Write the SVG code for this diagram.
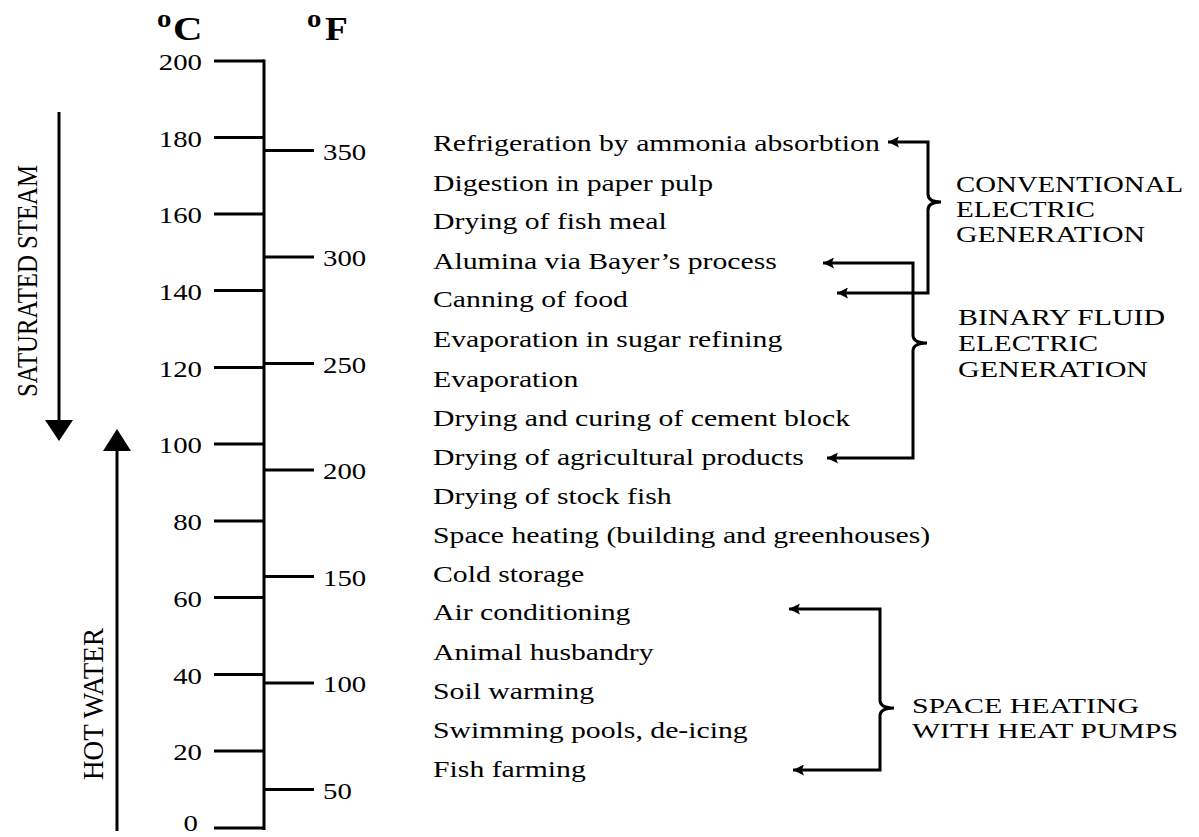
<svg xmlns="http://www.w3.org/2000/svg" width="1199" height="837" viewBox="0 0 1199 837">
<style>
.t{font-family:"Liberation Serif","Times New Roman",serif;font-size:24px;fill:#000}
.hdr{font-weight:bold;font-size:34px}
.sup{font-weight:bold;font-size:25px}
.lbl{font-size:23px}
.sm{font-size:21px}
.ln{stroke:#000;stroke-width:3;fill:none}
.br{stroke:#000;stroke-width:3;fill:none;marker-start:url(#ah);marker-end:url(#ah)}
</style>
<defs>
<marker id="ah" viewBox="0 0 10 10" refX="10" refY="5" markerWidth="11" markerHeight="11" markerUnits="userSpaceOnUse" orient="auto-start-reverse">
<path d="M0,0 L10,5 L0,10 L2,5 z" fill="#000"/>
</marker>
</defs>
<rect width="1199" height="837" fill="#fff"/>

<g id="headers">
<text class="t sup" transform="translate(157,27) scale(1.15,1)">o</text>
<text class="t hdr" transform="translate(173,40) scale(1.2,1)">C</text>
<text class="t sup" transform="translate(307,27) scale(1.15,1)">o</text>
<text class="t hdr" transform="translate(325,40) scale(1.1,1)">F</text>
</g>

<g id="scale">
<line class="ln" x1="264" y1="59.5" x2="264" y2="830"/>
<g id="celsius-ticks">
<line class="ln" x1="214" y1="61" x2="264" y2="61"/>
<line class="ln" x1="214" y1="137.5" x2="264" y2="137.5"/>
<line class="ln" x1="214" y1="214" x2="264" y2="214"/>
<line class="ln" x1="214" y1="290.5" x2="264" y2="290.5"/>
<line class="ln" x1="214" y1="367.5" x2="264" y2="367.5"/>
<line class="ln" x1="214" y1="444" x2="264" y2="444"/>
<line class="ln" x1="214" y1="521" x2="264" y2="521"/>
<line class="ln" x1="214" y1="597.5" x2="264" y2="597.5"/>
<line class="ln" x1="214" y1="674.5" x2="264" y2="674.5"/>
<line class="ln" x1="214" y1="751" x2="264" y2="751"/>
<line class="ln" x1="214" y1="828" x2="264" y2="828"/>
</g>
<g id="celsius-labels" text-anchor="end">
<text class="t" transform="translate(202,70) scale(1.2,1)">200</text>
<text class="t" transform="translate(202,146.5) scale(1.2,1)">180</text>
<text class="t" transform="translate(202,223) scale(1.2,1)">160</text>
<text class="t" transform="translate(202,299.5) scale(1.2,1)">140</text>
<text class="t" transform="translate(202,376.5) scale(1.2,1)">120</text>
<text class="t" transform="translate(202,453) scale(1.2,1)">100</text>
<text class="t" transform="translate(202,530) scale(1.2,1)">80</text>
<text class="t" transform="translate(202,606.5) scale(1.2,1)">60</text>
<text class="t" transform="translate(202,683.5) scale(1.2,1)">40</text>
<text class="t" transform="translate(202,760) scale(1.2,1)">20</text>
<text class="t" transform="translate(198,831) scale(1.2,1)">0</text>
</g>
<g id="fahrenheit-ticks">
<line class="ln" x1="264" y1="150.5" x2="314" y2="150.5"/>
<line class="ln" x1="264" y1="257" x2="314" y2="257"/>
<line class="ln" x1="264" y1="363.5" x2="314" y2="363.5"/>
<line class="ln" x1="264" y1="470" x2="314" y2="470"/>
<line class="ln" x1="264" y1="576.5" x2="314" y2="576.5"/>
<line class="ln" x1="264" y1="683" x2="314" y2="683"/>
<line class="ln" x1="264" y1="789.5" x2="314" y2="789.5"/>
</g>
<g id="fahrenheit-labels">
<text class="t" transform="translate(323,159.5) scale(1.2,1)">350</text>
<text class="t" transform="translate(323,266) scale(1.2,1)">300</text>
<text class="t" transform="translate(323,372.5) scale(1.2,1)">250</text>
<text class="t" transform="translate(323,479) scale(1.2,1)">200</text>
<text class="t" transform="translate(323,585.5) scale(1.2,1)">150</text>
<text class="t" transform="translate(323,692) scale(1.2,1)">100</text>
<text class="t" transform="translate(323,798.5) scale(1.2,1)">50</text>
</g>
</g>

<g id="saturated-steam">
<line class="ln" x1="59" y1="112" x2="59" y2="422"/>
<polygon points="45,420 73,420 59,441" fill="#000"/>
<text class="t" text-anchor="middle" textLength="232" lengthAdjust="spacingAndGlyphs" transform="translate(37,281) scale(1.2,1) rotate(-90)">SATURATED STEAM</text>
</g>
<g id="hot-water">
<line class="ln" x1="117" y1="449" x2="117" y2="831"/>
<polygon points="103,451 131,451 117,429" fill="#000"/>
<text class="t" text-anchor="middle" textLength="152" lengthAdjust="spacingAndGlyphs" transform="translate(103,704) scale(1.2,1) rotate(-90)">HOT WATER</text>
</g>

<g id="uses">
<g id="u1"><text class="t" transform="translate(433,151) scale(1.24,1)">Refrigeration by ammonia absorbtion</text></g>
<g id="u2"><text class="t" transform="translate(433,191) scale(1.24,1)">Digestion in paper pulp</text></g>
<g id="u3"><text class="t" transform="translate(433,229) scale(1.24,1)">Drying of fish meal</text></g>
<g id="u4"><text class="t" transform="translate(433,269) scale(1.24,1)">Alumina via Bayer’s process</text></g>
<g id="u5"><text class="t" transform="translate(433,307) scale(1.24,1)">Canning of food</text></g>
<g id="u6"><text class="t" transform="translate(433,347) scale(1.24,1)">Evaporation in sugar refining</text></g>
<g id="u7"><text class="t" transform="translate(433,387) scale(1.24,1)">Evaporation</text></g>
<g id="u8"><text class="t" transform="translate(433,426) scale(1.24,1)">Drying and curing of cement block</text></g>
<g id="u9"><text class="t" transform="translate(433,465) scale(1.24,1)">Drying of agricultural products</text></g>
<g id="u10"><text class="t" transform="translate(433,504) scale(1.24,1)">Drying of stock fish</text></g>
<g id="u11"><text class="t" transform="translate(433,543) scale(1.24,1)">Space heating (building and greenhouses)</text></g>
<g id="u12"><text class="t" transform="translate(433,582) scale(1.24,1)">Cold storage</text></g>
<g id="u13"><text class="t" transform="translate(433,620) scale(1.24,1)">Air conditioning</text></g>
<g id="u14"><text class="t" transform="translate(433,660) scale(1.24,1)">Animal husbandry</text></g>
<g id="u15"><text class="t" transform="translate(433,699) scale(1.24,1)">Soil warming</text></g>
<g id="u16"><text class="t" transform="translate(433,738) scale(1.24,1)">Swimming pools, de-icing</text></g>
<g id="u17"><text class="t" transform="translate(433,777) scale(1.24,1)">Fish farming</text></g>
</g>

<g id="connectors">
<path class="br" d="M888,142 H928 V194 Q928,202 941,202 Q928,202 928,210 V293 H837"/>
<path class="br" d="M823,263 H913 V335 Q913,343 927,343 Q913,343 913,351 V458 H827"/>
<path class="br" d="M789,609 H880 V700 Q880,708 894,708 Q880,708 880,716 V770 H793"/>
</g>

<g id="conventional">
<text class="t lbl" x="956" y="192" textLength="227" lengthAdjust="spacingAndGlyphs">CONVENTIONAL</text>
<text class="t lbl" x="956" y="217" textLength="139" lengthAdjust="spacingAndGlyphs">ELECTRIC</text>
<text class="t lbl" x="956" y="242" textLength="189" lengthAdjust="spacingAndGlyphs">GENERATION</text>
</g>
<g id="binary">
<text class="t lbl" x="958" y="325" textLength="207" lengthAdjust="spacingAndGlyphs">BINARY FLUID</text>
<text class="t lbl" x="958" y="351" textLength="140" lengthAdjust="spacingAndGlyphs">ELECTRIC</text>
<text class="t lbl" x="958" y="377" textLength="190" lengthAdjust="spacingAndGlyphs">GENERATION</text>
</g>
<g id="heat-pumps">
<text class="t sm" x="912" y="713" textLength="227" lengthAdjust="spacingAndGlyphs">SPACE HEATING</text>
<text class="t sm" x="912" y="738" textLength="266" lengthAdjust="spacingAndGlyphs">WITH HEAT PUMPS</text>
</g>
</svg>
